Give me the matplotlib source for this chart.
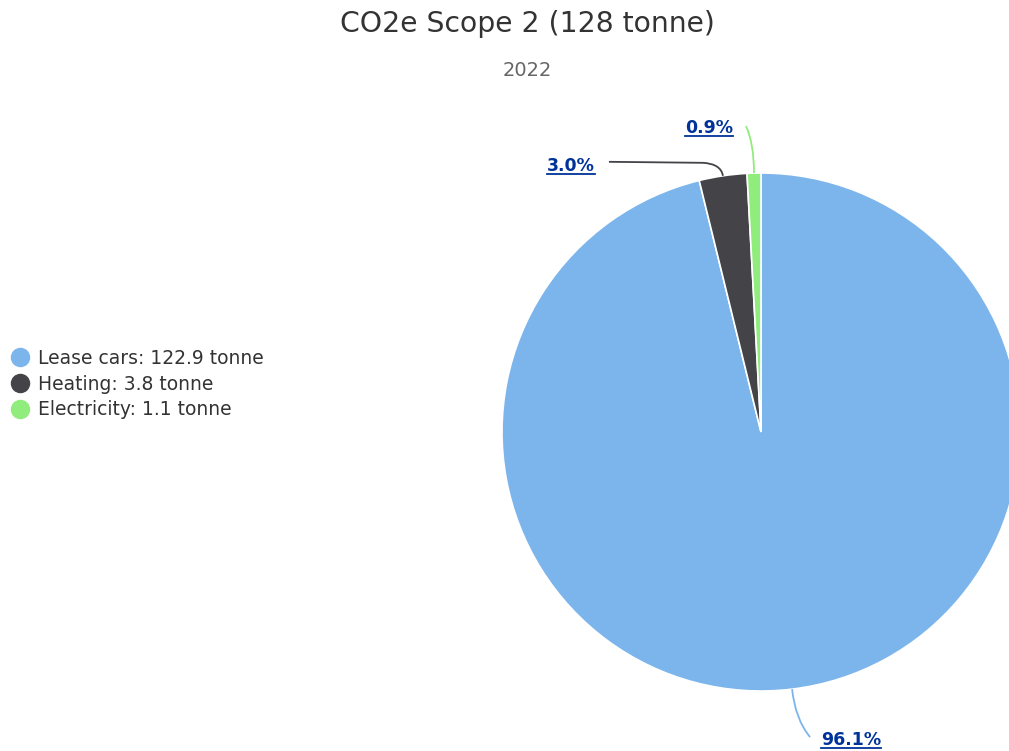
import numpy as np
import matplotlib
matplotlib.use('Agg')
from matplotlib import pyplot as plt
from matplotlib.path import Path
from matplotlib.patches import PathPatch
from matplotlib.lines import Line2D

plt.rcParams['font.family'] = ['DejaVu Sans']

# data
categories = ['Lease cars', 'Heating', 'Electricity']
values = [122.9, 3.8, 1.1]
pct_labels = ['96.1%', '3.0%', '0.9%']
colors = ['#7cb5ec', '#434348', '#90ed7d']

W, H = 1009, 751
fig = plt.figure(figsize=(W / 100, H / 100), dpi=100)
ax = fig.add_axes([0, 0, 1, 1])

cx, cy, r = 761, H - 432, 259
wedges, _ = ax.pie(values, colors=colors, startangle=90, counterclock=False,
                   center=(cx, cy), radius=r, frame=True,
                   wedgeprops=dict(edgecolor='white', linewidth=1.2))
ax.set_xlim(0, W)
ax.set_ylim(0, H)
ax.set_aspect('equal')
ax.axis('off')

# title / subtitle
fig.text(527 / W, 1 - 24 / H, 'CO2e Scope 2 (128 tonne)', ha='center', va='center',
         fontsize=20.3, color='#333333')
fig.text(527 / W, 1 - 70 / H, '2022', ha='center', va='center', fontsize=14,
         color='#666666')

# label positions (pixel, top-origin) and leader control points (dx right, dy down)
label_pos = [(851, 740), (571, 166), (709, 128)]
leaders = [
    [(0, 0), (3, 30), (18, 48)],
    [(0, 0), (-2, -12), (-20, -13), (-114, -14)],
    [(0, 0), (0, -30), (-8, -47)],
]

for w, lab, (lx, ly), ctrl, col in zip(wedges, pct_labels, label_pos, leaders, colors):
    ang = np.deg2rad((w.theta1 + w.theta2) / 2)
    sx, sy = cx + r * np.cos(ang), cy + r * np.sin(ang)
    pts = [(sx + dx, sy - dy) for dx, dy in ctrl]
    if len(pts) == 3:
        codes = [Path.MOVETO, Path.CURVE3, Path.CURVE3]
    else:
        codes = [Path.MOVETO, Path.CURVE3, Path.CURVE3, Path.LINETO]
    ax.add_patch(PathPatch(Path(pts, codes), fill=False, edgecolor=col, lw=1.3, zorder=3))
    t = ax.text(lx, H - ly, lab, ha='center', va='center', fontsize=12.5,
                fontweight='bold', color='#003399')
    fig.canvas.draw()
    bb = t.get_window_extent()
    ax.plot([bb.x0, bb.x1], [bb.y0 + 1, bb.y0 + 1], color='#003399', lw=1.3)

# legend
handles = [Line2D([], [], marker='o', ls='', markersize=13, color=c) for c in colors]
names = ['%s: %.1f tonne' % (n, v) for n, v in zip(categories, values)]
leg = fig.legend(handles, names, loc='center left', bbox_to_anchor=(0.0, 1 - 384 / H),
                 frameon=False, fontsize=13.5, handletextpad=0.45, labelspacing=0.35,
                 handlelength=1.0, borderaxespad=0.25, borderpad=0.3)
for txt in leg.get_texts():
    txt.set_color('#333333')

plt.savefig('out.png', dpi=100)
